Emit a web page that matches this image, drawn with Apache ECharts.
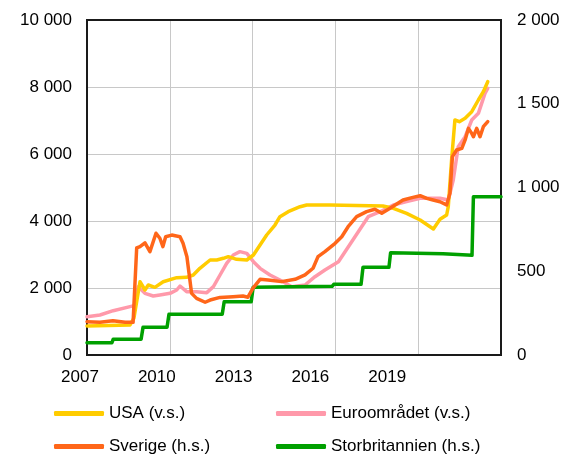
<!DOCTYPE html>
<html>
<head>
<meta charset="utf-8">
<script src="https://cdn.jsdelivr.net/npm/echarts@6/dist/echarts.min.js"></script>
<style>
    html,body{margin:0;padding:0;background:#fff;}
    #chart{width:564px;height:454px;}
</style>
</head>
<body>
<div id="chart"></div>
<script>
//数据: 年份 + 数值
var usaYears=[2007.00,2008.56,2008.70,2008.92,2009.10,2009.22,2009.46,2009.76,2010.25,2010.61,2010.85,2011.09,2011.46,2011.70,2011.94,2012.12,2012.42,2012.79,2013.03,2013.51,2013.81,2013.99,2014.29,2014.72,2014.96,2015.80,2017.72,2018.10,2018.58,2019.07,2019.55,2019.79,2020.03,2020.09,2020.21,2020.33,2020.49,2020.70,2020.94,2021.18,2021.36,2021.52];
var usaValues=[866,896,1100,2188,1940,2090,2020,2188,2308,2318,2388,2587,2836,2836,2886,2935,2856,2836,2985,3582,3880,4129,4278,4427,4478,4478,4450,4379,4229,4030,3761,4050,4179,4427,5821,7015,6965,7065,7264,7612,7860,8159];

var euroYears=[2007.00,2007.47,2007.95,2008.56,2008.74,2008.86,2009.10,2009.40,2009.64,2010.01,2010.25,2010.37,2010.61,2010.97,2011.34,2011.58,2011.82,2012.06,2012.30,2012.54,2012.79,2013.03,2013.27,2013.63,2013.99,2014.42,2014.90,2015.26,2015.62,2016.11,2016.47,2016.83,2017.19,2017.62,2018.10,2018.58,2019.07,2019.79,2020.09,2020.27,2020.45,2020.70,2020.94,2021.18,2021.42,2021.52];
var euroValues=[1144,1194,1323,1443,1480,2040,1841,1761,1790,1841,1940,2060,1890,1890,1861,2040,2388,2736,2985,3085,3035,2786,2587,2388,2238,2040,2090,2338,2537,2786,3233,3681,4129,4278,4478,4577,4677,4677,4627,5224,6219,6517,7015,7214,7811,7960];

var seYears=[2007.00,2007.47,2007.94,2008.38,2008.67,2008.80,2008.92,2009.10,2009.28,2009.50,2009.64,2009.75,2009.85,2010.07,2010.37,2010.48,2010.62,2010.79,2010.97,2011.28,2011.46,2011.82,2012.29,2012.65,2012.83,2013.01,2013.27,2013.56,2014.05,2014.54,2014.90,2015.19,2015.37,2015.62,2015.99,2016.23,2016.46,2016.77,2017.13,2017.43,2017.68,2017.98,2018.45,2018.81,2019.07,2019.31,2019.54,2019.79,2020.03,2020.15,2020.24,2020.39,2020.58,2020.70,2020.82,2020.94,2021.00,2021.12,2021.24,2021.36,2021.52];
var seValues=[199,195,205,195,195,639,647,670,617,727,697,647,706,716,706,667,587,368,338,315,328,344,348,352,345,398,452,448,438,452,478,518,587,617,667,706,766,826,856,870,846,876,925,941,951,935,925,915,896,965,1184,1224,1234,1284,1353,1323,1303,1353,1303,1363,1393];

var ukYears=[2007.00,2007.90,2007.95,2008.96,2009.03,2009.90,2009.97,2011.90,2011.97,2012.95,2013.02,2015.88,2015.94,2016.93,2017.00,2017.94,2018.00,2019.90,2019.95,2020.95,2021.00,2022.00];
var ukValues=[73,73,94,94,165,165,243,243,318,318,404,410,422,422,524,524,611,605,595,595,945,945];

//坐标轴刻度
var xLabelStart=2007;
var leftTicks={min:0,max:10000,interval:2000};
var rightTicks={min:0,max:2000,interval:500};

var names=['USA (v.s.)','Euroområdet (v.s.)','Sverige (h.s.)','Storbritannien (h.s.)'];
var colors={usa:'#FFCC00',euro:'#FF99AA',se:'#FF6619',uk:'#00A000'};

//公共方法
function pairs(xs,ys){
    var arr=[];
    for(var i=0;i<xs.length;i++){
        arr.push([xs[i],ys[i]]);
    }
    return arr;
}
function spaceNum(v){
    return String(v).replace(/\B(?=(\d{3})+(?!\d))/g,' ');
}
function lineSeries(name,color,data,yIndex){
    return {
        name:name,
        type:'line',
        xAxisIndex:0,
        yAxisIndex:yIndex,
        data:data,
        showSymbol:false,
        symbol:'none',
        color:color,
        lineStyle:{color:color,width:3.5,cap:'round',join:'round'}
    };
}

var font='"Liberation Sans", Arial, sans-serif';

//图例: 每项单独放, 两列两行
function legendItem(name,left,top){
    return {
        data:[name],left:left,top:top,padding:0,
        itemWidth:50,itemHeight:5,icon:'roundRect',
        textStyle:{color:'#000',fontSize:17,fontFamily:font}
    };
}

var myChart=echarts.init(document.getElementById('chart'),null,{renderer:'canvas'});
var option={
    animation:false,
    backgroundColor:'#fff',
    grid:[
        {left:87,right:63,top:20,bottom:99,show:true,borderColor:'#1a1a1a',borderWidth:2,backgroundColor:'transparent',z:3},
        {left:80,width:384,top:20,bottom:99,show:false}
    ],
    xAxis:[
        {
            type:'value',gridIndex:0,min:2007,max:2022,interval:3,
            axisLine:{show:false},axisTick:{show:false},axisLabel:{show:false},
            splitLine:{show:true,lineStyle:{color:'#c8c8c8',width:1}}
        },
        {
            //标签单独一个轴, 位置与原图一致
            type:'value',gridIndex:1,min:0,max:15,interval:3,
            axisLine:{show:false},axisTick:{show:false},splitLine:{show:false},
            axisLabel:{
                show:true,margin:14,showMaxLabel:false,color:'#000',fontSize:17,fontFamily:font,
                formatter:function(v){return String(xLabelStart+v);}
            }
        }
    ],
    yAxis:[
        {
            type:'value',gridIndex:0,position:'left',min:leftTicks.min,max:leftTicks.max,interval:leftTicks.interval,
            axisLine:{show:false},axisTick:{show:false},
            splitLine:{show:true,lineStyle:{color:'#c8c8c8',width:1}},
            axisLabel:{margin:15,color:'#000',fontSize:17,fontFamily:font,formatter:spaceNum}
        },
        {
            type:'value',gridIndex:0,position:'right',min:rightTicks.min,max:rightTicks.max,interval:rightTicks.interval,
            axisLine:{show:false},axisTick:{show:false},splitLine:{show:false},
            axisLabel:{margin:16,color:'#000',fontSize:17,fontFamily:font,formatter:spaceNum}
        },
        {
            type:'value',gridIndex:1,show:false,min:0,max:1
        }
    ],
    legend:[
        legendItem(names[0],54,405),
        legendItem(names[1],276,405),
        legendItem(names[2],54,438),
        legendItem(names[3],276,438)
    ],
    series:[
        lineSeries(names[1],colors.euro,pairs(euroYears,euroValues),0),
        lineSeries(names[0],colors.usa,pairs(usaYears,usaValues),0),
        lineSeries(names[3],colors.uk,pairs(ukYears,ukValues),1),
        lineSeries(names[2],colors.se,pairs(seYears,seValues),1)
    ]
};
myChart.setOption(option);
</script>
</body>
</html>
